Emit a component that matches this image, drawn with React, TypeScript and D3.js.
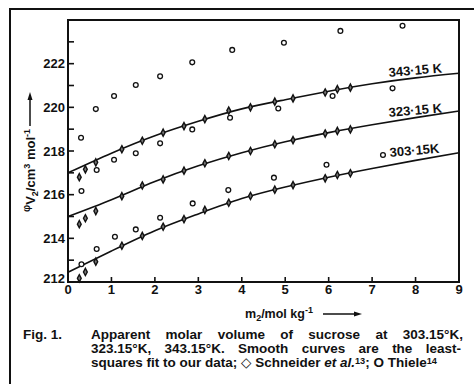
import React, { useEffect, useRef } from 'react';
import * as d3 from 'd3';

// least-squares curves, read at whole molalities
const fitMolality = [0, 1, 2, 3, 4, 5, 6, 7, 8, 9];
const fit303 = [212.45, 213.42, 214.35, 215.12, 215.82, 216.35, 216.8, 217.2, 217.57, 217.92];
const fit323 = [215.0, 215.77, 216.6, 217.32, 217.92, 218.42, 218.84, 219.2, 219.53, 219.83];
const fit343 = [217.0, 217.9, 218.7, 219.36, 219.93, 220.35, 220.74, 221.08, 221.35, 221.56];

// Schneider et al. (diamonds)
const schneiderM = [0.26, 0.4, 0.64, 1.24, 1.71, 2.19, 2.67, 3.15, 3.7, 4.2, 4.76, 5.18, 5.92, 6.2, 6.5];
const schneider303 = [212.17, 212.46, 212.93, 213.66, 214.11, 214.53, 214.88, 215.3, 215.63, 215.94, 216.23, 216.44, 216.75, 216.9, 216.98];
const schneider323 = [214.65, 214.92, 215.25, 215.93, 216.42, 216.7, 217.1, 217.44, 217.77, 218.0, 218.31, 218.5, 218.8, 218.92, 218.99];
const schneider343 = [216.8, 217.16, 217.48, 218.08, 218.47, 218.84, 219.14, 219.46, 219.85, 220.0, 220.26, 220.41, 220.68, 220.83, 220.9];

// Thiele (open circles)
const thiele303M = [0.31, 0.66, 1.08, 1.56, 2.12, 2.87, 3.69, 4.74, 5.95, 7.25];
const thiele303 = [212.81, 213.51, 214.07, 214.41, 214.94, 215.6, 216.21, 216.78, 217.37, 217.82];
const thiele323M = [0.31, 0.66, 1.06, 1.56, 2.12, 2.86, 3.73, 4.84, 6.09, 7.47];
const thiele323 = [216.17, 217.13, 217.6, 217.9, 218.35, 218.99, 219.52, 219.95, 220.52, 220.87];
const thiele343M = [0.3, 0.64, 1.06, 1.56, 2.12, 2.86, 3.78, 4.97, 6.27, 7.7];
const thiele343 = [218.61, 219.92, 220.52, 221.02, 221.42, 222.06, 222.63, 222.96, 223.5, 223.74];

const xTicks = [0, 1, 2, 3, 4, 5, 6, 7, 8, 9];
const yMajor = [212, 214, 216, 218, 220, 222];
const yMinor = [213, 215, 217, 219, 221, 223];
const curveLabels = ['343·15 K', '323·15 K', '303·15K'];

const FONT = '"Liberation Sans", Arial, "DejaVu Sans", sans-serif';

type Seg = { t: string; it?: boolean; sup?: boolean };

const line1: Seg[][] = [[{ t: 'Apparent' }], [{ t: 'molar' }], [{ t: 'volume' }], [{ t: 'of' }], [{ t: 'sucrose' }], [{ t: 'at' }], [{ t: '303.15°K,' }]];
const line2: Seg[][] = [[{ t: '323.15°K,' }], [{ t: '343.15°K.' }], [{ t: 'Smooth' }], [{ t: 'curves' }], [{ t: 'are' }], [{ t: 'the' }], [{ t: 'least-' }]];
const line3: Seg[] = [
  { t: 'squares fit to our data; \u25C7 Schneider ' },
  { t: 'et al.', it: true },
  { t: '13', sup: true },
  { t: '; O Thiele' },
  { t: '14', sup: true },
];

const App = () => {
  const capRef = useRef<SVGGElement>(null);

  const x = d3.scaleLinear().domain([0, 9]).range([68, 459]);
  const y = d3.scaleLinear().domain([212, 224]).range([282, 20]);

  const line = d3.line<number>()
    .x((d, i) => x(fitMolality[i]))
    .y(d => y(d))
    .curve(d3.curveNatural);

  useEffect(() => {
    const g = d3.select(capRef.current);
    g.selectAll('*').remove();
    const size = 13.5;

    const addText = (x0: number, y0: number, segs: Seg[]) => {
      const t = g.append('text').attr('x', x0).attr('y', y0)
        .attr('font-size', size).attr('font-weight', 'bold').attr('font-family', FONT);
      let shift = 0;
      segs.forEach(s => {
        const want = s.sup ? -3 : 0;
        const ts = t.append('tspan').text(s.t).attr('dy', want - shift);
        shift = want;
        if (s.sup) ts.attr('font-size', size * 0.68);
        if (s.it) ts.attr('font-style', 'italic');
      });
      return t;
    };

    const left = 91;
    const t3 = addText(left, 367, line3);
    const w3 = (t3.node() as SVGTextElement).getComputedTextLength();
    const sx = Math.min(1, 358 / w3);
    g.attr('transform', `translate(${left},0) scale(${sx},1) translate(${-left},0)`);

    addText(left + (23 - left) / sx, 338.5, [{ t: 'Fig. 1.' }]);

    const justify = (words: Seg[][], yy: number, right: number) => {
      const nodes = words.map(w => addText(left, yy, w));
      const widths = nodes.map(n => (n.node() as SVGTextElement).getComputedTextLength());
      const avail = (right - left) / sx;
      const gap = (avail - d3.sum(widths)) / (words.length - 1);
      let cx = left;
      nodes.forEach((n, i) => {
        n.attr('x', cx);
        cx += widths[i] + gap;
      });
    };
    justify(line1, 338.5, 463);
    justify(line2, 352.5, 461);
  }, []);

  const diamond = 'M0,-3.6L1.9,0L0,3.6L-1.9,0Z';
  const schneider = [schneider303, schneider323, schneider343];
  const thiele = [
    { m: thiele303M, v: thiele303 },
    { m: thiele323M, v: thiele323 },
    { m: thiele343M, v: thiele343 },
  ];

  return (
    <svg width={474} height={384} style={{ position: 'absolute', left: 0, top: 0, background: '#fff' }}
      fontFamily={FONT}>
      {/* outer frame (partial) */}
      <path d="M10,384V9H474" fill="none" stroke="#111" strokeWidth={2} />

      {/* plot frame */}
      <rect x={x(0)} y={y(224)} width={x(9) - x(0)} height={y(212) - y(224)}
        fill="none" stroke="#111" strokeWidth={2} />

      {/* x ticks */}
      {xTicks.map(t => (
        <g key={'x' + t}>
          <line x1={x(t)} x2={x(t)} y1={y(212)} y2={y(212) - 5} stroke="#111" strokeWidth={1.6} />
          <text x={x(t)} y={294} textAnchor="middle" fontSize={13} fontWeight="bold" fill="#111">{t}</text>
        </g>
      ))}

      {/* y ticks */}
      {yMajor.map(t => (
        <g key={'y' + t}>
          <line x1={x(0)} x2={x(0) + 6} y1={y(t)} y2={y(t)} stroke="#111" strokeWidth={1.6} />
          <text x={65} y={t === 212 ? y(t) - 4 : y(t)} dy="0.36em" textAnchor="end" fontSize={13} fontWeight="bold" fill="#111">{t}</text>
        </g>
      ))}
      {yMinor.map(t => (
        <line key={'m' + t} x1={x(0)} x2={x(0) + 6} y1={y(t)} y2={y(t)} stroke="#111" strokeWidth={1.6} />
      ))}

      {/* y axis title */}
      <text transform="translate(35,212) rotate(-90)" fontSize={13} fontWeight="bold" fill="#111">
        <tspan fontSize={10} dy={-5}>φ</tspan>
        <tspan dy={5}>V</tspan>
        <tspan fontSize={9} dy={3}>2</tspan>
        <tspan dy={-3}>/cm</tspan>
        <tspan fontSize={9} dy={-5}>3</tspan>
        <tspan dy={5}> mol</tspan>
        <tspan fontSize={9} dy={-5}>-1</tspan>
      </text>
      <line x1={30} x2={30} y1={126} y2={97} stroke="#111" strokeWidth={1.5} />
      <path d="M30,92L27.5,100L32.5,100Z" fill="#111" />

      {/* x axis title */}
      <text x={245} y={318} fontSize={12.5} fontWeight="bold" fill="#111">
        <tspan>m</tspan>
        <tspan fontSize={9} dy={3}>2</tspan>
        <tspan dy={-3}>/mol kg</tspan>
        <tspan fontSize={9} dy={-5}>-1</tspan>
      </text>
      <line x1={323} x2={356} y1={314} y2={314} stroke="#111" strokeWidth={1.5} />
      <path d="M362,314L354,311.5L354,316.5Z" fill="#111" />

      {/* fitted curves */}
      {[fit303, fit323, fit343].map((f, i) => (
        <path key={'c' + i} d={line(f) || ''} fill="none" stroke="#111" strokeWidth={1.6} />
      ))}

      {/* Schneider diamonds */}
      {schneider.map((s, k) => s.map((v, i) => (
        <path key={`s${k}-${i}`} d={diamond} transform={`translate(${x(schneiderM[i])},${y(v)})`}
          fill="#777" stroke="#111" strokeWidth={1.4} />
      )))}

      {/* Thiele circles */}
      {thiele.map((s, k) => s.v.map((v, i) => (
        <circle key={`t${k}-${i}`} cx={x(s.m[i])} cy={y(v)} r={2.4}
          fill="#fff" stroke="#111" strokeWidth={1.3} />
      )))}

      {/* curve labels */}
      <text transform="translate(389,77) rotate(-5)" fontSize={13} fontWeight="bold" fill="#111">{curveLabels[0]}</text>
      <text transform="translate(389,117) rotate(-5)" fontSize={13} fontWeight="bold" fill="#111">{curveLabels[1]}</text>
      <text transform="translate(390,157) rotate(-5)" fontSize={13} fontWeight="bold" fill="#111">{curveLabels[2]}</text>

      {/* caption */}
      <g ref={capRef} fill="#111" />
    </svg>
  );
};

export default App;
